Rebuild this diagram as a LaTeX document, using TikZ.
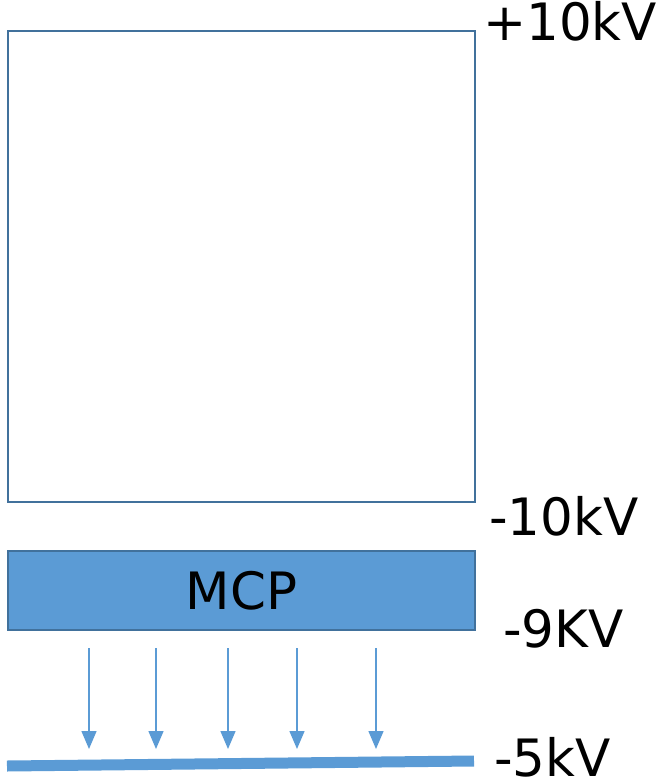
\documentclass[tikz,border=0pt]{standalone}
\usepackage{fontspec}
\setmainfont{DejaVu Sans}
\usetikzlibrary{arrows.meta}
\definecolor{edgeblue}{HTML}{41719C}
\definecolor{fillblue}{HTML}{5B9BD5}
\tikzset{
  lbl/.style={inner sep=0pt, anchor=base west, font=\fontsize{51.5}{60}\selectfont},
  flow/.style={draw=fillblue, line width=1.5pt, -{Triangle[width=15pt,length=18pt]}},
}
\begin{document}
\begin{tikzpicture}[x=1pt,y=-1pt]
\useasboundingbox (0,0) rectangle (660,780);
\node[draw=edgeblue, line width=2pt, minimum width=467pt, minimum height=471pt, inner sep=0pt, anchor=north west] (box) at (7,30) {};
\node[draw=edgeblue, fill=fillblue, line width=2pt, minimum width=467pt, minimum height=79pt, inner sep=0pt, anchor=north west, font=\fontsize{51.5}{60}\selectfont] (mcp) at (7,550) {MCP};
\coordinate (barL) at (7,766);
\coordinate (barR) at (474,761);
\draw[fillblue, line width=11pt] (barL) -- (barR);
\foreach \x [count=\i] in {89,156,228,297,376}{
  \coordinate (s\i) at (\x,648);
  \coordinate (e\i) at (\x,749);
  \draw[flow] (s\i) -- (e\i);
}
\node[lbl] (v1) at (483,40) {+10kV};
\node[lbl] (v2) at (489,535) {-10kV};
\node[lbl] (v3) at (503,647) {-9KV};
\node[lbl] (v4) at (494,776) {-5kV};
\end{tikzpicture}
\end{document}
